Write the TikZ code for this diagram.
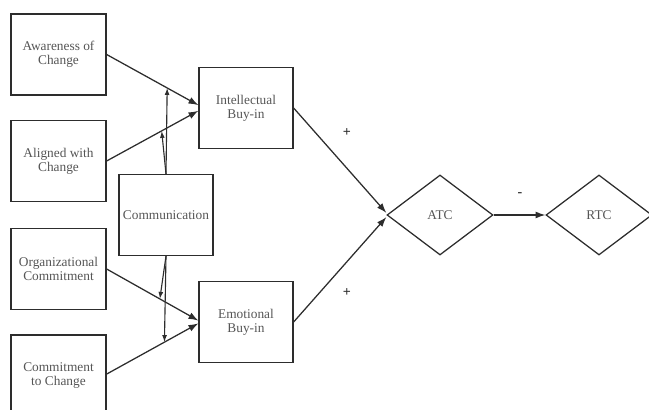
\documentclass[tikz,border=0pt]{standalone}
\usepackage{fontspec}
\setmainfont{Liberation Serif}
\usepackage{tikz}
\usetikzlibrary{shapes.geometric,arrows.meta}
\definecolor{boxline}{RGB}{45,45,45}
\definecolor{boxtext}{RGB}{85,85,85}

\tikzset{
  factor/.style={draw=boxline,line width=0.9pt,minimum width=2.35cm,minimum height=2.02cm,
    align=center,text=boxtext,font=\fontsize{9.5}{10}\selectfont,inner sep=1pt},
  outcome/.style={diamond,draw=boxline,line width=0.9pt,minimum width=2.65cm,minimum height=2cm,
    inner sep=0pt,text=boxtext,font=\fontsize{9.5}{10}\selectfont},
  link/.style={draw=boxline,line width=0.9pt,-{Latex[length=7pt,width=5pt]}},
  moderate/.style={draw=boxline,line width=0.8pt,-{Latex[length=5pt,width=3.5pt]}},
  sign/.style={text=boxline,font=\fontsize{10}{10}\selectfont\bfseries}
}

\begin{document}
\begin{tikzpicture}
  \useasboundingbox (0,0) rectangle (16.225,10.25);

  \node[factor,minimum width=2.375cm] (aware) at (1.4625,8.8875) {Awareness of\\Change};
  \node[factor,minimum width=2.375cm] (aligned) at (1.4625,6.225) {Aligned with\\Change};
  \node[factor,minimum width=2.375cm] (orgcom) at (1.4625,3.525) {Organizational\\Commitment};
  \node[factor,minimum width=2.375cm] (comchange) at (1.4625,0.8625) {Commitment\\to Change};

  \node[factor] (comm) at (4.15,4.875) {Communication};
  \node[factor] (intel) at (6.15,7.55) {Intellectual\\Buy-in};
  \node[factor] (emot) at (6.15,2.2) {Emotional\\Buy-in};

  \node[outcome] (atc) at (11.0,4.875) {ATC};
  \node[outcome] (rtc) at (14.975,4.875) {RTC};

  \draw[link] (aware.east) -- ([yshift=2pt]intel.west) coordinate[pos=0.66] (p1);
  \draw[link] (aligned.east) -- ([yshift=-2pt]intel.west) coordinate[pos=0.6] (p2);
  \draw[link] (orgcom.east) -- ([yshift=1pt]emot.west) coordinate[pos=0.58] (p3);
  \draw[link] ([yshift=1pt]comchange.east) -- ([yshift=-1pt]emot.west) coordinate[pos=0.63] (p4);

  \draw[moderate] (comm.north) -- (p1);
  \draw[moderate] (comm.north) -- (p2);
  \draw[moderate] (comm.south) -- (p3);
  \draw[moderate] (comm.south) -- (p4);

  \draw[link] (intel.east) -- ([yshift=1.5pt]atc.west);
  \draw[link] (emot.east) -- ([yshift=-1.5pt]atc.west);
  \draw[link] (atc.east) -- (rtc.west);

  \node[sign] (plusup) at (8.675,6.925) {+};
  \node[sign] (plusdown) at (8.675,2.925) {+};
  \node[sign] (minus) at (13.0,5.375) {-};
\end{tikzpicture}
\end{document}
